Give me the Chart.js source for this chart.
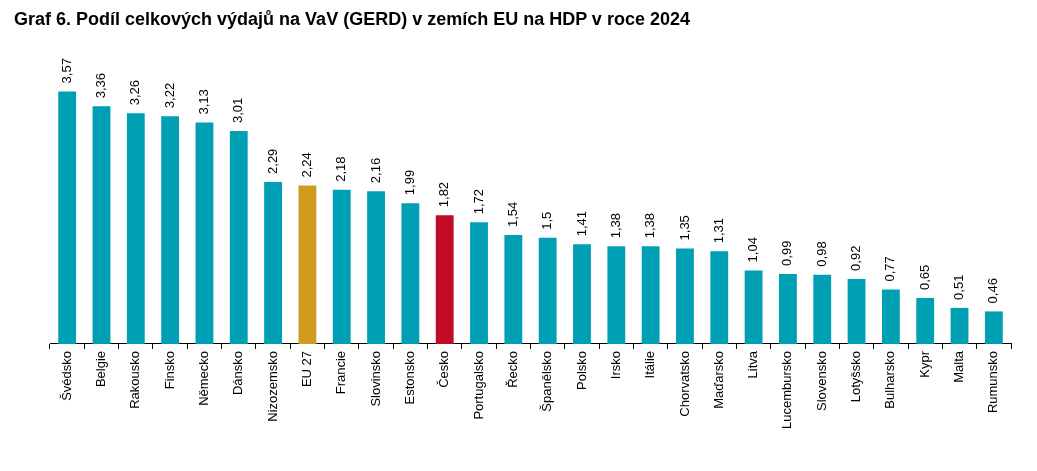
<!DOCTYPE html>
<html>
<head>
<meta charset="utf-8">
<script src="https://cdn.jsdelivr.net/npm/chart.js@4/dist/chart.umd.min.js"></script>
<style>
  html, body { margin: 0; padding: 0; background: #fff; }
  #wrap { width: 1037px; height: 471px; position: relative; }
  #title { position: absolute; left: 14px; top: 9px; font: bold 18px "Liberation Sans", Arial, sans-serif; color: #000; }
</style>
</head>
<body>
<div id="wrap"><div id="title">Graf 6. Podíl celkových výdajů na VaV (GERD) v zemích EU na HDP v roce 2024</div><canvas id="c"></canvas></div>
<script>
const countries = ['Švédsko','Belgie','Rakousko','Finsko','Německo','Dánsko','Nizozemsko','EU 27','Francie','Slovinsko','Estonsko','Česko','Portugalsko','Řecko','Španělsko','Polsko','Irsko','Itálie','Chorvatsko','Maďarsko','Litva','Lucembursko','Slovensko','Lotyšsko','Bulharsko','Kypr','Malta','Rumunsko'];
const gerd = [3.57,3.36,3.26,3.22,3.13,3.01,2.29,2.24,2.18,2.16,1.99,1.82,1.72,1.54,1.5,1.41,1.38,1.38,1.35,1.31,1.04,0.99,0.98,0.92,0.77,0.65,0.51,0.46];

const teal = '#00A0B4';
const gold = '#D09B1E';
const red = '#C00D25';
const barColors = countries.map(c => c === 'EU 27' ? gold : (c === 'Česko' ? red : teal));

// popisky hodnot nad sloupci, otočené o 90°
const valueLabels = {
    id: 'valueLabels',
    afterDatasetsDraw(chart) {
        const ctx = chart.ctx;
        const meta = chart.getDatasetMeta(0);
        ctx.save();
        ctx.font = '13px "Liberation Sans", Arial, sans-serif';
        ctx.fillStyle = '#000';
        ctx.textAlign = 'left';
        ctx.textBaseline = 'middle';
        meta.data.forEach((bar, i) => {
            ctx.save();
            ctx.translate(bar.x, bar.y - 8);
            ctx.rotate(-Math.PI / 2);
            ctx.fillText(String(gerd[i]).replace('.', ','), 0, 0);
            ctx.restore();
        });
        ctx.restore();
    }
};

new Chart(document.getElementById('c'), {
    type: 'bar',
    data: {
        labels: countries,
        datasets: [{
            data: gerd,
            backgroundColor: barColors,
            barPercentage: 0.52,
            categoryPercentage: 1
        }]
    },
    options: {
        responsive: true,
        maintainAspectRatio: false,
        animation: false,
        layout: { padding: { left: 50, right: 26, top: 61, bottom: 40 } },
        plugins: {
            legend: { display: false },
            tooltip: { enabled: false }
        },
        scales: {
            y: {
                display: false,
                min: 0,
                max: 4
            },
            x: {
                offset: true,
                border: { display: true, color: '#000', width: 1 },
                grid: { offset: true, drawOnChartArea: false, drawTicks: true, tickLength: 5, color: '#000' },
                ticks: {
                    color: '#000',
                    minRotation: 90,
                    maxRotation: 90,
                    padding: 2,
                    font: { family: '"Liberation Sans", Arial, sans-serif', size: 13 }
                }
            }
        }
    },
    plugins: [valueLabels]
});
</script>
</body>
</html>
